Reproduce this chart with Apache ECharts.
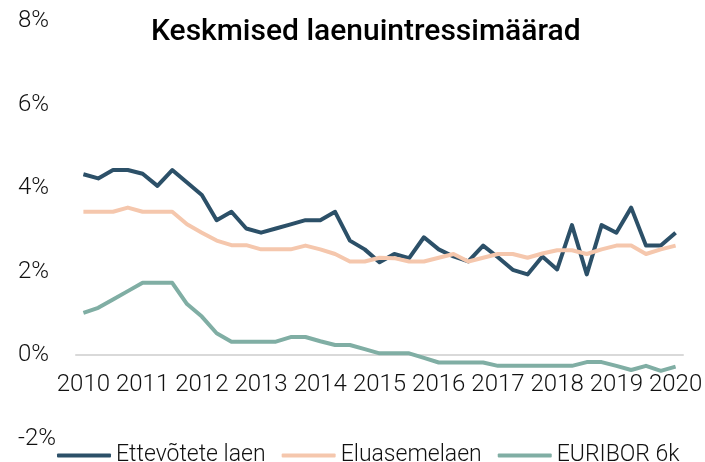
<!DOCTYPE html>
<html>
<head>
<meta charset="utf-8">
<script src="https://cdn.jsdelivr.net/npm/echarts@6/dist/echarts.min.js"></script>
<style>
html,body{margin:0;padding:0;background:#fff;}
#chart{width:705px;height:462px;}
</style>
</head>
<body>
<div id="chart"></div>
<script>
var quarters = [
  '2010 Q1','2010 Q2','2010 Q3','2010 Q4',
  '2011 Q1','2011 Q2','2011 Q3','2011 Q4',
  '2012 Q1','2012 Q2','2012 Q3','2012 Q4',
  '2013 Q1','2013 Q2','2013 Q3','2013 Q4',
  '2014 Q1','2014 Q2','2014 Q3','2014 Q4',
  '2015 Q1','2015 Q2','2015 Q3','2015 Q4',
  '2016 Q1','2016 Q2','2016 Q3','2016 Q4',
  '2017 Q1','2017 Q2','2017 Q3','2017 Q4',
  '2018 Q1','2018 Q2','2018 Q3','2018 Q4',
  '2019 Q1','2019 Q2','2019 Q3','2019 Q4',
  '2020 Q1'
];
var seriesNames = ['Ettevõtete laen', 'Eluasemelaen', 'EURIBOR 6k'];
var ettevotete = [4.33,4.23,4.43,4.43,4.34,4.05,4.43,4.13,3.83,3.23,3.43,3.03,2.93,3.03,3.13,3.23,3.23,3.43,2.74,2.53,2.22,2.42,2.32,2.82,2.53,2.36,2.24,2.62,2.34,2.04,1.93,2.36,2.05,3.11,1.93,3.11,2.93,3.53,2.62,2.62,2.93];
var eluasemelaen = [3.43,3.43,3.43,3.53,3.43,3.43,3.43,3.13,2.93,2.74,2.63,2.63,2.53,2.53,2.53,2.62,2.53,2.42,2.24,2.24,2.33,2.32,2.24,2.24,2.33,2.42,2.24,2.33,2.42,2.42,2.33,2.43,2.51,2.51,2.42,2.53,2.62,2.62,2.42,2.53,2.62];
var euribor = [1.01,1.13,1.33,1.53,1.73,1.73,1.73,1.22,0.92,0.52,0.32,0.32,0.32,0.32,0.43,0.43,0.33,0.24,0.24,0.14,0.04,0.04,0.04,-0.07,-0.18,-0.18,-0.18,-0.18,-0.26,-0.26,-0.26,-0.26,-0.26,-0.26,-0.17,-0.17,-0.26,-0.36,-0.26,-0.38,-0.28];
var colors = ['#2c5068', '#f5c7ad', '#80aea4'];
var titleText = 'Keskmised laenuintressimäärad';

var FONT = "Roboto, 'Liberation Sans', sans-serif";
var chart = echarts.init(document.getElementById('chart'), null, {renderer: 'canvas'});
var allData = [ettevotete, eluasemelaen, euribor];
var yMin = -2, yMax = 8;
var gridTop = 21, gridBottom = 23.5, H = 462;
var plotH = H - gridTop - gridBottom;
var zeroOffset = -plotH * (0 - yMin) / (yMax - yMin);
chart.setOption({
  animation: false,
  backgroundColor: '#ffffff',
  title: {
    text: titleText,
    left: 146, top: 12,
    textStyle: {fontFamily: FONT, fontWeight: 500, fontSize: 30, color: '#000'}
  },
  legend: {
    left: 52, top: 439,
    itemWidth: 54, itemHeight: 4, itemGap: 16,
    icon: 'roundRect',
    textStyle: {fontFamily: FONT, fontWeight: 300, fontSize: 23, color: '#111'},
    data: seriesNames
  },
  grid: {left: 76, right: 22, top: gridTop, bottom: gridBottom, containLabel: false, outerBoundsMode: 'none'},
  xAxis: {
    type: 'category',
    data: quarters,
    boundaryGap: true,
    position: 'bottom',
    offset: zeroOffset,
    axisLine: {onZero: false, lineStyle: {color: '#d9d9d9', width: 2}},
    axisTick: {interval: 3, length: 7, lineStyle: {color: '#d9d9d9', width: 2}},
    axisLabel: {
      interval: 3, margin: 18,
      fontFamily: FONT, fontWeight: 300, fontSize: 24, color: '#111',
      formatter: function (v) { return v.slice(0, 4); }
    },
    splitLine: {show: false}
  },
  yAxis: {
    type: 'value', min: yMin, max: yMax, interval: 2,
    axisLine: {show: false}, axisTick: {show: false}, splitLine: {show: false},
    axisLabel: {
      align: 'left', margin: 58,
      fontFamily: FONT, fontWeight: 300, fontSize: 24, color: '#111',
      formatter: '{value}%'
    }
  },
  series: seriesNames.map(function (n, i) {
    return {
      name: n, type: 'line', data: allData[i],
      symbol: 'none', showSymbol: false,
      lineStyle: {color: colors[i], width: 4, join: 'round'},
      itemStyle: {color: colors[i]}
    };
  })
});
</script>
</body>
</html>
